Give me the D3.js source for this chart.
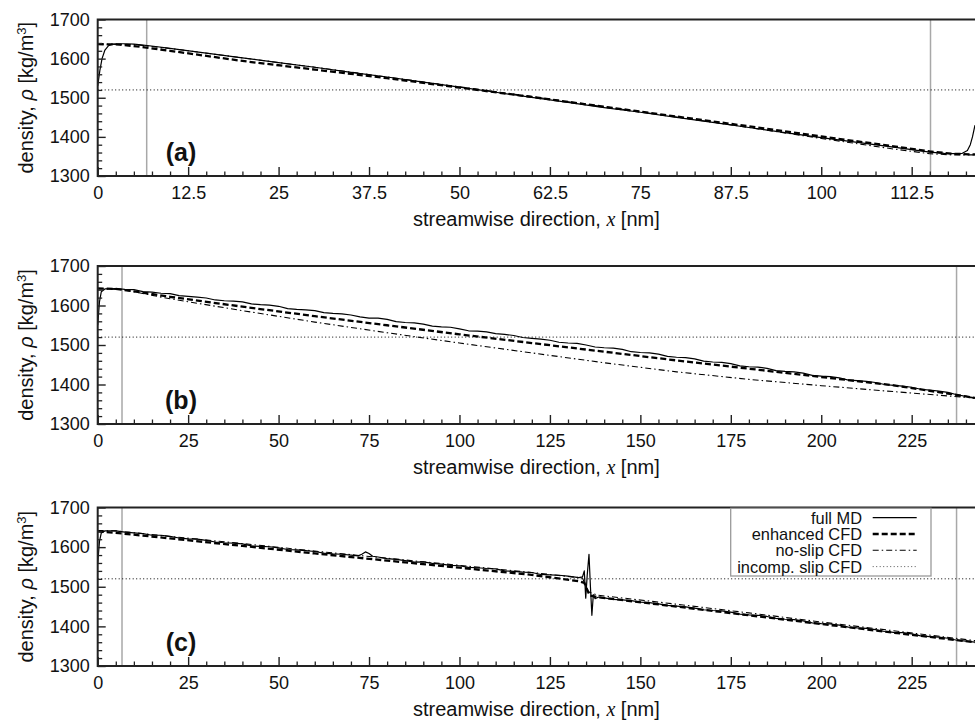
<!DOCTYPE html>
<html>
<head>
<meta charset="utf-8">
<script src="https://cdn.jsdelivr.net/npm/d3@7"></script>
<style>
  html, body { margin: 0; padding: 0; background: #fff; }
  svg { display: block; font-family: "Liberation Sans", Arial, Helvetica, sans-serif; }
</style>
</head>
<body>
<svg id="chart" width="975" height="723"></svg>
<script>
// ---------------- DATA ----------------
const yTicks = [1300, 1400, 1500, 1600, 1700];
const yTickLabels = ["1300", "1400", "1500", "1600", "1700"];
const xTicksA = [0, 12.5, 25, 37.5, 50, 62.5, 75, 87.5, 100, 112.5];
const xTickLabelsA = ["0", "12.5", "25", "37.5", "50", "62.5", "75", "87.5", "100", "112.5"];
const xTicksBC = [0, 25, 50, 75, 100, 125, 150, 175, 200, 225];
const xTickLabelsBC = ["0", "25", "50", "75", "100", "125", "150", "175", "200", "225"];
const panelTags = ["(a)", "(b)", "(c)"];
const seriesNames = ["full MD", "enhanced CFD", "no-slip CFD", "incomp. slip CFD"];
const xMaxA = 121.25, xMaxBC = 242.5;
const mdBoundsA = [6.77, 115.1];
const mdBoundsBC = [6.72, 237.4];
const incompSlipRho = 1520;

// panel (a)
const fullMD_a = [[0,1530],[0.3,1570],[0.6,1600],[1,1622],[1.5,1633],[2,1637],[3,1638],[4,1638],[5,1637],[6,1635],[8,1631],[10,1626],[15,1614],[20,1602],[25,1590],[30,1578],[35,1565],[40,1553],[45,1540],[50,1527],[55,1514],[60,1501],[65,1488],[70,1475],[75,1463],[80,1450],[85,1437],[90,1424],[95,1411],[100,1398],[105,1386],[110,1374],[113,1366],[115,1361],[117,1358],[118.5,1357],[119.5,1358],[120.2,1365],[120.6,1380],[120.9,1400],[121.25,1430]];
const enhancedCFD_a = [[0,1637],[3,1636],[6,1630],[10,1620],[20,1594],[30,1572],[40,1550],[50,1526],[60,1502],[70,1477],[80,1452],[90,1427],[100,1401],[110,1376],[115,1363],[118,1357],[121.25,1355]];
const noSlipCFD_a = [[0,1637],[5,1636],[10,1626],[20,1602],[30,1578],[40,1553],[50,1528],[60,1503],[70,1477],[80,1451],[90,1424],[100,1396],[110,1369],[115,1357],[118,1354],[121.25,1354]];

// panel (b)
const fullMD_b = [[0,1550],[0.5,1610],[1,1635],[2,1642],[5,1643],[7.5,1641],[10,1640],[12.5,1635],[15,1634],[17.5,1631],[20,1630],[22.5,1625],[25,1623],[27.5,1621],[30,1619],[32.5,1614],[35,1612],[37.5,1611],[40,1609],[42.5,1604],[45,1602],[47.5,1601],[50,1598],[52.5,1592],[55,1590],[57.5,1589],[60,1587],[62.5,1582],[65,1580],[67.5,1579],[70,1576],[72.5,1571],[75,1568],[77.5,1568],[80,1565],[82.5,1559],[85,1557],[87.5,1556],[90,1553],[92.5,1548],[95,1546],[97.5,1545],[100,1541],[102.5,1536],[105,1535],[107.5,1533],[110,1529],[112.5,1527],[115,1524],[117.5,1519],[120,1517],[122.5,1515],[125,1512],[127.5,1507],[130,1505],[132.5,1504],[135,1500],[137.5,1495],[140,1493],[142.5,1492],[145,1489],[147.5,1483],[150,1481],[152.5,1480],[155,1477],[157.5,1471],[160,1469],[162.5,1468],[165,1465],[167.5,1459],[170,1457],[172.5,1456],[175,1453],[177.5,1447],[180,1445],[182.5,1444],[185,1441],[187.5,1435],[190,1433],[192.5,1432],[195,1429],[197.5,1423],[200,1421],[202.5,1420],[205,1417],[207.5,1411],[210,1410],[212.5,1408],[215,1405],[217.5,1400],[220,1398],[222.5,1396],[225,1393],[227.5,1388],[230,1386],[232.5,1383],[235,1380],[237.5,1374],[240,1370],[242.5,1366]];
const enhancedCFD_b = [[0,1643],[5,1642],[10,1636],[20,1622],[40,1597],[60,1573],[80,1550],[100,1527],[120,1505],[140,1483],[160,1461],[180,1440],[200,1419],[220,1398],[240,1370],[242.5,1366]];
const noSlipCFD_b = [[0,1643],[7,1640],[20,1617],[40,1587],[60,1558],[80,1531],[100,1505],[120,1480],[140,1455],[160,1432],[180,1413],[200,1397],[220,1382],[235,1371],[242.5,1366]];

// panel (c)
const fullMD_c = [[0,1560],[0.5,1615],[1,1636],[2,1641],[5,1641],[7.5,1638],[10,1636],[12.5,1634],[15,1630],[17.5,1630],[20,1627],[22.5,1623],[25,1621],[27.5,1620],[30,1617],[32.5,1613],[35,1611],[37.5,1610],[40,1608],[42.5,1603],[45,1602],[47.5,1601],[50,1598],[52.5,1594],[55,1593],[57.5,1591],[60,1589],[62.5,1585],[65,1583],[67.5,1582],[70,1580],[72,1578],[73,1582],[74,1588],[75,1584],[76,1577],[77.5,1575],[80,1571],[82.5,1569],[85,1566],[87.5,1562],[90,1563],[92.5,1559],[95,1557],[97.5,1554],[100,1553],[102.5,1549],[105,1548],[107.5,1546],[110,1545],[112.5,1540],[115,1539],[117.5,1537],[120,1536],[122.5,1531],[125,1530],[127.5,1529],[130,1527],[133,1523],[134,1525],[134.5,1540],[134.9,1471],[135.3,1528],[135.8,1582],[136.2,1500],[136.6,1428],[137,1480],[137.5,1470],[138.5,1474],[140,1472],[142.5,1468],[145,1467],[147.5,1465],[150,1461],[152.5,1460],[155,1457],[157.5,1453],[160,1451],[162.5,1449],[165,1446],[167.5,1442],[170,1440],[172.5,1439],[175,1436],[177.5,1431],[180,1429],[182.5,1428],[185,1425],[187.5,1420],[190,1418],[192.5,1417],[195,1414],[197.5,1409],[200,1407],[202.5,1406],[205,1403],[207.5,1398],[210,1396],[212.5,1395],[215,1392],[217.5,1387],[220,1385],[222.5,1384],[225,1381],[227.5,1376],[230,1374],[232.5,1373],[235,1370],[237.5,1365],[240,1363],[242.5,1360]];
const enhancedCFD_c = [[0,1640],[5,1636],[20,1622],[40,1603],[60,1584],[80,1566],[100,1548],[120,1530],[133,1514],[134.5,1510],[136,1478],[138,1474],[160,1450],[180,1428],[200,1406],[220,1384],[242.5,1360]];
const noSlipCFD_c = [[0,1642],[5,1641],[20,1627],[40,1609],[60,1590],[80,1572],[100,1554],[120,1536],[134,1522],[135.5,1488],[138,1479],[160,1456],[180,1434],[200,1411],[220,1389],[242.5,1364]];

// ---------------- LAYOUT ----------------
const svg = d3.select("#chart");
const W = 975;
const left = 97.7;
const panelBoxes = [
  { top: 19.5, bottom: 176 },
  { top: 266, bottom: 424 },
  { top: 507.5, bottom: 666 }
];
const dashStyles = {
  full: { dash: null, width: 1.2 },
  enh: { dash: "6,3", width: 2.3 },
  noslip: { dash: "6,3,1.5,3", width: 1.1 },
  incomp: { dash: "1,2.5", width: 1 }
};

const panels = [
  { xMax: xMaxA, ticks: xTicksA, labels: xTickLabelsA, minorStep: 2.5, md: mdBoundsA,
    series: [fullMD_a, enhancedCFD_a, noSlipCFD_a] },
  { xMax: xMaxBC, ticks: xTicksBC, labels: xTickLabelsBC, minorStep: 5, md: mdBoundsBC,
    series: [fullMD_b, enhancedCFD_b, noSlipCFD_b] },
  { xMax: xMaxBC, ticks: xTicksBC, labels: xTickLabelsBC, minorStep: 5, md: mdBoundsBC,
    series: [fullMD_c, enhancedCFD_c, noSlipCFD_c] }
];

panels.forEach((p, i) => {
  const box = panelBoxes[i];
  const x = d3.scaleLinear().domain([0, p.xMax]).range([left, W]);
  const y = d3.scaleLinear().domain([1300, 1700]).range([box.bottom, box.top]);
  const g = svg.append("g");

  const clipId = "clip" + i;
  svg.append("clipPath").attr("id", clipId).append("rect")
    .attr("x", left).attr("y", box.top).attr("width", W - left).attr("height", box.bottom - box.top);

  // MD region boundaries (grey verticals)
  g.selectAll("line.md").data(p.md).join("line")
    .attr("x1", d => x(d)).attr("x2", d => x(d))
    .attr("y1", y(1700)).attr("y2", y(1300))
    .attr("stroke", "#a8a8a8").attr("stroke-width", 1.5);

  const line = d3.line().x(d => x(d[0])).y(d => y(d[1]));
  const plot = g.append("g").attr("clip-path", `url(#${clipId})`);

  // incompressible slip CFD (constant density)
  plot.append("path")
    .attr("d", line([[0, incompSlipRho], [p.xMax, incompSlipRho]]))
    .attr("fill", "none").attr("stroke", "#000")
    .attr("stroke-width", dashStyles.incomp.width).attr("stroke-dasharray", dashStyles.incomp.dash);

  const styles = [dashStyles.full, dashStyles.enh, dashStyles.noslip];
  [2, 1, 0].forEach(k => {
    plot.append("path")
      .attr("d", line(p.series[k]))
      .attr("fill", "none").attr("stroke", "#000")
      .attr("stroke-width", styles[k].width)
      .attr("stroke-dasharray", styles[k].dash)
      .attr("stroke-linejoin", "round");
  });

  // minor ticks
  const minorX = d3.range(0, p.xMax + 1e-9, p.minorStep).filter(v => !p.ticks.some(t => Math.abs(t - v) < 1e-6));
  g.append("g").attr("transform", `translate(0,${box.bottom})`)
    .call(d3.axisBottom(x).tickValues(minorX).tickFormat("").tickSizeInner(-4.5).tickSizeOuter(0))
    .call(a => a.select(".domain").remove())
    .call(a => a.selectAll("line").attr("stroke", "#222").attr("stroke-width", 1.3));
  const minorY = d3.range(1300, 1700, 20).filter(v => v % 100 !== 0);
  g.append("g").attr("transform", `translate(${left},0)`)
    .call(d3.axisLeft(y).tickValues(minorY).tickFormat("").tickSizeInner(-4.5).tickSizeOuter(0))
    .call(a => a.select(".domain").remove())
    .call(a => a.selectAll("line").attr("stroke", "#222").attr("stroke-width", 1.3));

  // major ticks
  g.append("g").attr("transform", `translate(0,${box.bottom})`)
    .call(d3.axisBottom(x).tickValues(p.ticks).tickFormat((d, j) => p.labels[j]).tickSizeInner(-9).tickSizeOuter(0).tickPadding(10))
    .call(a => a.select(".domain").remove())
    .call(a => a.selectAll("line").attr("stroke", "#222").attr("stroke-width", 1.4))
    .call(a => a.selectAll("text").attr("font-size", 18).attr("fill", "#111")
      .attr("font-family", "'Liberation Sans', Arial, sans-serif"));
  g.append("g").attr("transform", `translate(${left},0)`)
    .call(d3.axisLeft(y).tickValues(yTicks).tickFormat((d, j) => yTickLabels[j]).tickSizeInner(-8).tickSizeOuter(0).tickPadding(8))
    .call(a => a.select(".domain").remove())
    .call(a => a.selectAll("line").attr("stroke", "#222").attr("stroke-width", 1.4))
    .call(a => a.selectAll("text").attr("font-size", 18).attr("fill", "#111")
      .attr("font-family", "'Liberation Sans', Arial, sans-serif"));

  // frame: top, left, bottom
  g.append("path")
    .attr("d", `M${W},${box.top}H${left}V${box.bottom}H${W}`)
    .attr("fill", "none").attr("stroke", "#222").attr("stroke-width", 2);

  // panel tag
  g.append("text").attr("x", 181).attr("y", box.bottom - 24).attr("dy", "0.36em")
    .attr("text-anchor", "middle").attr("font-weight", "bold").attr("font-size", 25)
    .attr("fill", "#111").text(panelTags[i]);

  // x axis label
  const xl = g.append("text").attr("x", (left + W) / 2).attr("y", box.bottom + 50)
    .attr("text-anchor", "middle").attr("font-size", 20).attr("fill", "#111");
  xl.append("tspan").text("streamwise direction, ");
  xl.append("tspan").attr("font-family", "'Liberation Serif', 'Times New Roman', serif")
    .attr("font-style", "italic").text("x");
  xl.append("tspan").text(" [nm]");

  // y axis label
  const yl = g.append("text")
    .attr("transform", `translate(33,${(box.top + box.bottom) / 2}) rotate(-90)`)
    .attr("text-anchor", "middle").attr("font-size", 20).attr("fill", "#111");
  yl.append("tspan").text("density, ");
  yl.append("tspan").attr("font-style", "italic").text("ρ");
  yl.append("tspan").text(" [kg/m");
  yl.append("tspan").attr("font-size", 13).attr("dy", "-0.55em").text("3");
  yl.append("tspan").attr("dy", "0.36em").text("]");

  // legend in panel (c)
  if (i === 2) {
    const lg = g.append("g");
    lg.append("rect").attr("x", 730.7).attr("y", 508.3).attr("width", 200.3).attr("height", 67.7)
      .attr("fill", "#fff").attr("stroke", "#9a9a9a").attr("stroke-width", 1.3);
    const keyStyles = [dashStyles.full, dashStyles.enh, dashStyles.noslip, dashStyles.incomp];
    seriesNames.forEach((name, k) => {
      const cy = 517.7 + k * 16.3;
      lg.append("text").attr("x", 862).attr("y", cy).attr("dy", "0.36em")
        .attr("text-anchor", "end").attr("font-size", 16.4).attr("fill", "#111").text(name);
      lg.append("line").attr("x1", 872.7).attr("x2", 916.7).attr("y1", cy).attr("y2", cy)
        .attr("stroke", k === 3 ? "#555" : "#000").attr("stroke-width", keyStyles[k].width)
        .attr("stroke-dasharray", keyStyles[k].dash);
    });
  }
});
</script>
</body>
</html>
